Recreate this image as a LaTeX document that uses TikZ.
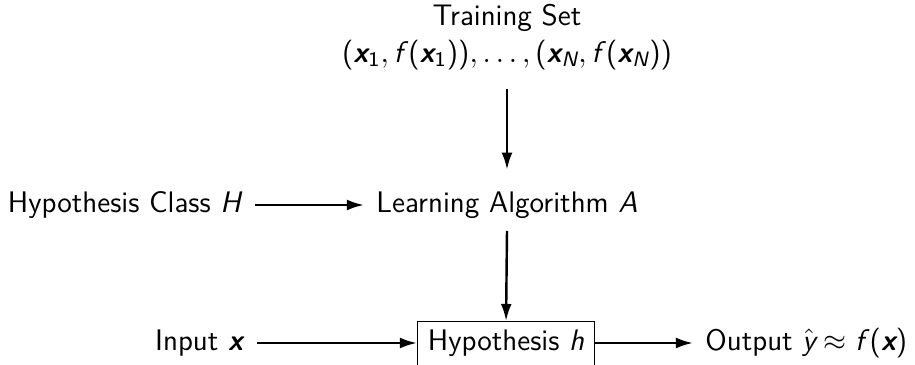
\documentclass[tikz,border=0pt]{standalone}
\usepackage{amsmath}
\usepackage{fontspec}
\usetikzlibrary{arrows.meta}
\newcommand\mv[1]{\textsf{\mdseries\itshape #1}}
\newcommand\bv[1]{\textsf{\bfseries\itshape #1}}
\newcommand\su[1]{\textsf{\upshape #1}}
\begin{document}
\begin{tikzpicture}[x=0.37pt,y=-0.37pt,
  lbl/.style={font=\sffamily\fontsize{11}{13.6}\selectfont, inner sep=4.4pt, text=black},
  arr/.style={-{Latex[length=6.3pt,width=4pt]}, line width=0.9pt},
  hbox/.style={draw, line width=0.4pt, font=\sffamily\fontsize{11}{13.6}\selectfont, inner sep=2pt, minimum width=65.5pt, minimum height=16.3pt}]
\useasboundingbox (0,0) rectangle (915,365);
\begin{scope}
\clip (0,0) rectangle (915,365);
\node[lbl, align=center] (ts) at (507,37) {Training Set\\
  $\su{(}\bv{x}_{\su{1}}, \mv{f\/}\su{(}\bv{x}_{\su{1}}\su{))}, \ldots, \su{(}\bv{x}_{\mv{N}}, \mv{f\/}\su{(}\bv{x}_{\mv{N}}\su{))}$};
\node[lbl] (la) at (507,205) {Learning Algorithm \mv{A}};
\node[lbl, anchor=east] (hc) at (255,205) {Hypothesis Class \mv{H}};
\node[hbox, anchor=north west] (hb) at (417,321) {Hypothesis \mv{h}};
\node[lbl, anchor=east] (in) at (257,343) {Input \bv{x}};
\node[lbl, anchor=west] (out) at (693,343) {Output $\hat{\mv{y}} \approx \mv{f\/}\su{(}\bv{x}\su{)}$};
\draw[arr, shorten <=2.5pt, shorten >=3.5pt] (ts.south) -- (la.north);
\draw[arr] (la.south) -- (hb.north);
\draw[arr] (hc.east) -- (la.west);
\draw[arr] (in.east) -- (in.east -| hb.west);
\draw[arr] (in.east -| hb.east) -- (out.west);
\end{scope}
\end{tikzpicture}
\end{document}
